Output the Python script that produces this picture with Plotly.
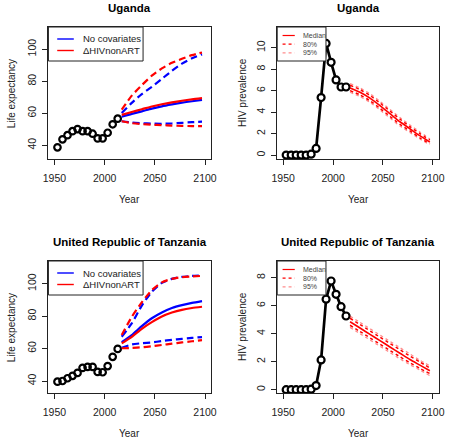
import plotly.graph_objects as go
from plotly.subplots import make_subplots

W, H = 450, 440

# ---------------- data ----------------
hist_years = [1953, 1958, 1963, 1968, 1973, 1978, 1983, 1988, 1993, 1998, 2003, 2008, 2013]
proj_years = [2017, 2027, 2037, 2047, 2057, 2067, 2077, 2087, 2097]

# Uganda life expectancy
uga_le_hist = [38.7, 43.7, 46.3, 48.8, 50.1, 48.8, 48.8, 47.2, 44.3, 44.3, 47.8, 53.1, 56.6]
uga_le_nocov_med = [57.8, 59.6, 61.2, 62.9, 64.3, 65.5, 66.6, 67.5, 68.3]
uga_le_nocov_hi = [60.2, 66.5, 72.0, 76.5, 81.5, 86.5, 91.0, 94.3, 96.8]
uga_le_nocov_lo = [55.0, 54.2, 53.8, 53.5, 53.4, 53.6, 54.0, 54.4, 54.7]
uga_le_hiv_med = [59.0, 60.8, 62.5, 64.2, 65.6, 66.8, 67.8, 68.7, 69.4]
uga_le_hiv_hi = [62.3, 71.0, 77.5, 83.5, 88.0, 91.5, 94.0, 96.3, 98.0]
uga_le_hiv_lo = [55.0, 53.8, 53.2, 52.8, 52.6, 52.3, 52.1, 52.0, 52.0]

# Tanzania life expectancy
tza_le_hist = [39.6, 40.0, 41.7, 43.2, 45.0, 48.1, 48.7, 48.7, 45.6, 45.4, 49.2, 54.9, 59.8]
tza_le_nocov_med = [63.9, 68.3, 73.8, 78.7, 82.3, 85.0, 86.8, 88.2, 89.3]
tza_le_nocov_hi = [67.3, 75.5, 86.5, 95.0, 100.5, 103.0, 104.2, 104.8, 105.0]
tza_le_nocov_lo = [60.5, 62.5, 63.3, 63.8, 64.6, 65.4, 66.0, 66.6, 67.1]
tza_le_hiv_med = [63.2, 67.2, 72.2, 76.3, 79.8, 82.2, 83.9, 85.0, 85.8]
tza_le_hiv_hi = [68.4, 79.5, 88.5, 96.0, 100.8, 103.0, 104.0, 104.5, 104.8]
tza_le_hiv_lo = [60.2, 60.4, 60.8, 61.4, 62.2, 63.0, 63.8, 64.5, 65.2]

# Uganda HIV prevalence
uga_hiv_hist = [0, 0, 0, 0, 0, 0.08, 0.62, 5.35, 10.4, 8.64, 7.0, 6.34, 6.34]
uga_hiv_med = [6.25, 5.85, 5.3, 4.6, 3.85, 3.1, 2.45, 1.8, 1.2]
uga_hiv_80hi = [6.5, 6.1, 5.55, 4.85, 4.1, 3.35, 2.65, 2.0, 1.4]
uga_hiv_80lo = [6.0, 5.6, 5.05, 4.35, 3.6, 2.85, 2.25, 1.6, 1.05]
uga_hiv_95hi = [6.65, 6.25, 5.7, 5.0, 4.25, 3.5, 2.8, 2.15, 1.5]
uga_hiv_95lo = [5.85, 5.45, 4.9, 4.2, 3.45, 2.7, 2.1, 1.5, 0.95]

# Tanzania HIV prevalence
tza_hiv_hist = [0, 0, 0, 0, 0, 0.03, 0.29, 2.12, 6.46, 7.76, 6.81, 5.93, 5.26]
tza_hiv_med = [4.85, 4.4, 3.95, 3.5, 3.05, 2.6, 2.15, 1.75, 1.35]
tza_hiv_80hi = [5.1, 4.65, 4.2, 3.75, 3.3, 2.85, 2.4, 1.98, 1.55]
tza_hiv_80lo = [4.6, 4.15, 3.7, 3.25, 2.8, 2.35, 1.92, 1.52, 1.15]
tza_hiv_95hi = [5.25, 4.8, 4.35, 3.9, 3.45, 3.0, 2.55, 2.1, 1.7]
tza_hiv_95lo = [4.45, 4.0, 3.55, 3.1, 2.65, 2.2, 1.78, 1.4, 1.0]

titles = ["Uganda", "Uganda", "United Republic of Tanzania", "United Republic of Tanzania"]
x_ticks = [1950, 2000, 2050, 2100]
le_ticks = [40, 60, 80, 100]
uga_hiv_ticks = [0, 2, 4, 6, 8, 10]
tza_hiv_ticks = [0, 2, 4, 6, 8]
le_legend = ["No covariates", "\u0394HIVnonART"]
hiv_legend = ["Median", "80%", "95%"]

# ---------------- style ----------------
FONT = "Liberation Sans, Arial, Helvetica, sans-serif"
BLUE = "#0000FF"
RED = "#FF0000"
PINK = "rgba(255,0,0,0.45)"

# plot boxes in pixels (left, right, top, bottom)
boxes = {
    (1, 1): (43.5, 210.5, 27, 159),
    (1, 2): (278, 444, 27, 159),
    (2, 1): (43.5, 210.5, 261, 393),
    (2, 2): (278, 444, 261, 393),
}
xr = [1944, 2106.3]
yranges = {
    (1, 1): [31.4, 113.9],
    (1, 2): [-0.37, 11.93],
    (2, 1): [32.6, 114.0],
    (2, 2): [-0.24, 9.19],
}
yticks = {(1, 1): le_ticks, (1, 2): uga_hiv_ticks, (2, 1): le_ticks, (2, 2): tza_hiv_ticks}

fig = make_subplots(rows=2, cols=2)


def px_x(v):
    return v / W


def px_y(v):
    return 1 - v / H


def add_le(row, col, hist, nm, nh, nl, hm, hh, hl):
    fig.add_trace(go.Scatter(x=hist_years, y=hist, mode="markers",
                             marker=dict(symbol="circle-open", size=6.5, color="black",
                                         line=dict(width=2.2, color="black")),
                             showlegend=False), row=row, col=col)
    for ys, c, d in [(nh, BLUE, "7px,4px"), (nl, BLUE, "7px,4px"),
                     (hh, RED, "7px,4px"), (hl, RED, "7px,4px"),
                     (nm, BLUE, "solid"), (hm, RED, "solid")]:
        fig.add_trace(go.Scatter(x=proj_years, y=ys, mode="lines",
                                 line=dict(color=c, width=2.2, dash=d, shape="spline", smoothing=0.6),
                                 showlegend=False), row=row, col=col)


def add_hiv(row, col, hist, med, h80, l80, h95, l95):
    fig.add_trace(go.Scatter(x=hist_years, y=hist, mode="lines+markers",
                             line=dict(color="black", width=2.7),
                             marker=dict(symbol="circle", size=7, color="white",
                                         line=dict(width=2.2, color="black")),
                             showlegend=False), row=row, col=col)
    for ys, c, d, w in [(h95, PINK, "dot", 1.3), (l95, PINK, "dot", 1.3),
                        (h80, RED, "3px,3px", 1.5), (l80, RED, "3px,3px", 1.5),
                        (med, RED, "solid", 1.6)]:
        fig.add_trace(go.Scatter(x=proj_years, y=ys, mode="lines",
                                 line=dict(color=c, width=w, dash=d, shape="spline", smoothing=0.6),
                                 showlegend=False), row=row, col=col)


add_le(1, 1, uga_le_hist, uga_le_nocov_med, uga_le_nocov_hi, uga_le_nocov_lo,
       uga_le_hiv_med, uga_le_hiv_hi, uga_le_hiv_lo)
add_hiv(1, 2, uga_hiv_hist, uga_hiv_med, uga_hiv_80hi, uga_hiv_80lo, uga_hiv_95hi, uga_hiv_95lo)
add_le(2, 1, tza_le_hist, tza_le_nocov_med, tza_le_nocov_hi, tza_le_nocov_lo,
       tza_le_hiv_med, tza_le_hiv_hi, tza_le_hiv_lo)
add_hiv(2, 2, tza_hiv_hist, tza_hiv_med, tza_hiv_80hi, tza_hiv_80lo, tza_hiv_95hi, tza_hiv_95lo)

axis_common = dict(showline=True, mirror=True, linecolor="#222", linewidth=1,
                   ticks="outside", ticklen=5, tickcolor="#222", tickwidth=1,
                   showgrid=False, zeroline=False,
                   tickfont=dict(family=FONT, size=10.5, color="#222"))

annotations = []
shapes = []
for (r, c), (l, rr, t, b) in boxes.items():
    fig.update_xaxes(domain=[px_x(l), px_x(rr)], range=xr, tickvals=x_ticks,
                     ticklabelstandoff=4, row=r, col=c, **axis_common)
    fig.update_yaxes(domain=[px_y(b), px_y(t)], range=yranges[(r, c)], tickvals=yticks[(r, c)],
                     tickangle=-90, ticklabelstandoff=2, row=r, col=c, **axis_common)
    cx = (l + rr) / 2
    idx = (r - 1) * 2 + (c - 1)
    # title
    annotations.append(dict(text="<b>%s</b>" % titles[idx], x=px_x(cx), y=px_y(t - 19),
                            xref="paper", yref="paper", showarrow=False,
                            font=dict(family=FONT, size=11.5, color="black"),
                            xanchor="center", yanchor="middle"))
    # x title
    annotations.append(dict(text="Year", x=px_x(cx), y=px_y(b + 40),
                            xref="paper", yref="paper", showarrow=False,
                            font=dict(family=FONT, size=10, color="#222"),
                            xanchor="center", yanchor="middle"))
    # y title
    ytxt = "Life expectancy" if c == 1 else "HIV prevalence"
    ylab_x = l - 38 if c == 1 else l - 36
    annotations.append(dict(text=ytxt, x=px_x(ylab_x), y=px_y((t + b) / 2),
                            xref="paper", yref="paper", showarrow=False, textangle=-90,
                            font=dict(family=FONT, size=10, color="#222"),
                            xanchor="center", yanchor="middle"))

    # legends
    if c == 1:
        lb_r, lb_b = l + 97, t + 34
        shapes.append(dict(type="rect", xref="paper", yref="paper",
                           x0=px_x(l), x1=px_x(lb_r), y0=px_y(lb_b), y1=px_y(t),
                           line=dict(color="#222", width=1), fillcolor="white", layer="above"))
        for k, (lab, colr) in enumerate(zip(le_legend, [BLUE, RED])):
            yy = t + 12 + k * 11.5
            shapes.append(dict(type="line", xref="paper", yref="paper",
                               x0=px_x(l + 9), x1=px_x(l + 26), y0=px_y(yy), y1=px_y(yy),
                               line=dict(color=colr, width=1.4), layer="above"))
            annotations.append(dict(text=lab, x=px_x(l + 33), y=px_y(yy), xref="paper", yref="paper",
                                    showarrow=False, xanchor="left", yanchor="middle",
                                    font=dict(family=FONT, size=9.5, color="#222")))
    else:
        lb_r, lb_b = l + 50, t + 34
        shapes.append(dict(type="rect", xref="paper", yref="paper",
                           x0=px_x(l), x1=px_x(lb_r), y0=px_y(lb_b), y1=px_y(t),
                           line=dict(color="#222", width=1), fillcolor="white", layer="above"))
        for k, (lab, colr, d) in enumerate(zip(hiv_legend, [RED, RED, PINK],
                                              ["solid", "3px,3px", "dot"])):
            yy = t + 8.5 + k * 8.7
            shapes.append(dict(type="line", xref="paper", yref="paper",
                               x0=px_x(l + 5.5), x1=px_x(l + 18), y0=px_y(yy), y1=px_y(yy),
                               line=dict(color=colr, width=1.2, dash=d), layer="above"))
            annotations.append(dict(text=lab, x=px_x(l + 24.5), y=px_y(yy), xref="paper", yref="paper",
                                    showarrow=False, xanchor="left", yanchor="middle",
                                    font=dict(family=FONT, size=7, color="#444")))

fig.update_layout(width=W, height=H, margin=dict(l=0, r=0, t=0, b=0),
                  paper_bgcolor="white", plot_bgcolor="white",
                  showlegend=False, annotations=annotations, shapes=shapes,
                  font=dict(family=FONT), hovermode=False)

fig.write_html("out.html", config={"displayModeBar": False, "staticPlot": True},
               post_script="document.body.style.margin='0';document.body.style.overflow='hidden';")
